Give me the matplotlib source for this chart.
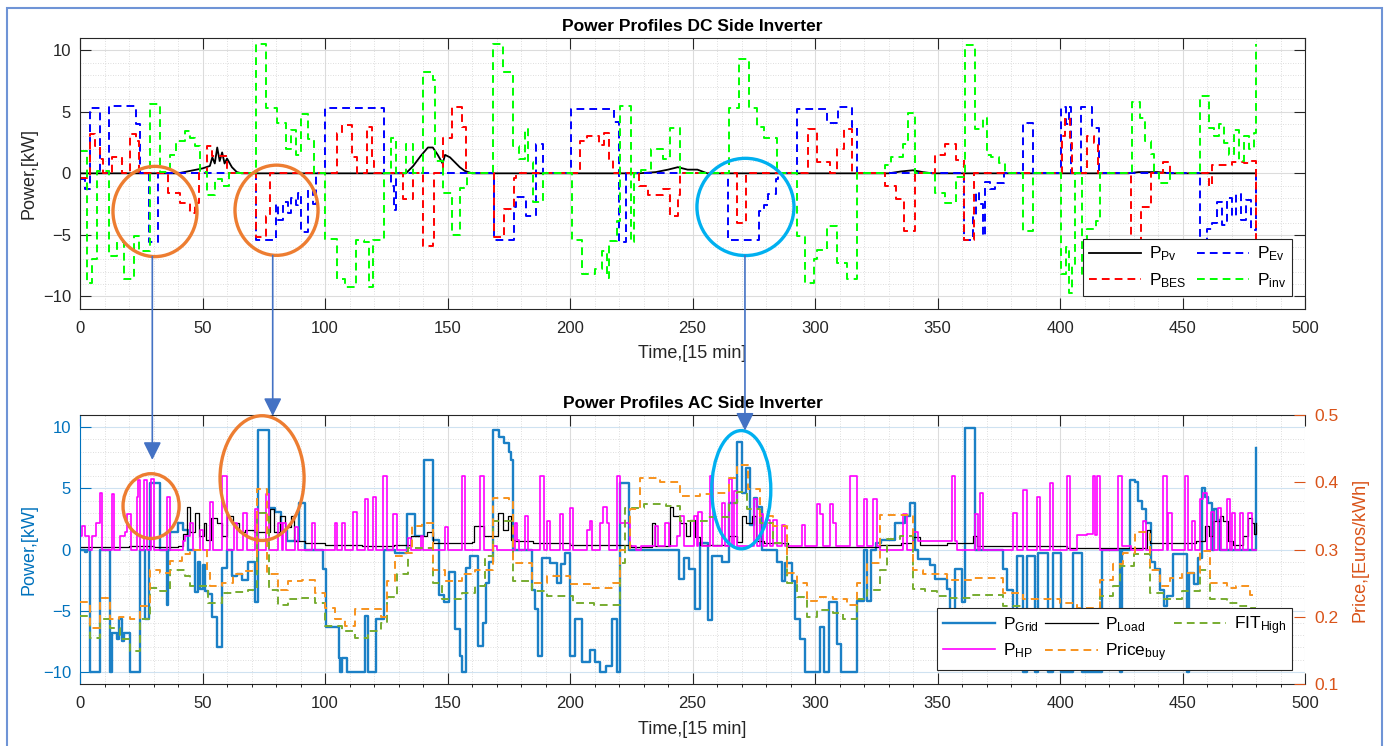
import matplotlib
matplotlib.use('Agg')
import matplotlib.pyplot as plt
from matplotlib.patches import Ellipse, Rectangle, ConnectionPatch
from matplotlib.ticker import MultipleLocator

plt.rcParams['font.family'] = ['Liberation Sans', 'DejaVu Sans']
plt.rcParams['mathtext.default'] = 'regular'

# ---------------- DC side (breakpoints: time step, kW) ----------------
pv = [(0, 0), (40, 0), (45, 0.2), (50, 0.4), (53, 0.6), (54, 1.3), (55, 0.8), (56, 2.1), (57, 1.0),
      (58, 1.7), (59, 0.8), (60, 1.2), (62, 0.5), (64, 0.1), (66, 0), (133, 0), (136, 0.6), (139, 1.4),
      (142, 2.1), (144, 2.1), (146, 1.5), (148, 0.8), (149, 1.5), (151, 1.3), (153, 0.9), (155, 0.5),
      (157, 0.2), (160, 0), (228, 0), (235, 0.1), (240, 0.3), (244, 0.5), (248, 0.3), (252, 0.3),
      (256, 0), (330, 0), (335, 0.15), (340, 0.25), (344, 0.1), (348, 0), (428, 0), (432, 0.1),
      (440, 0.1), (445, 0), (480, 0)]

ev = [(0, -0.5), (2, -1.3), (4, 5.3), (8, 0), (12, 5.5), (23, 4.0), (24.5, 0), (28, -5.6), (32, 0),
      (72, -5.4), (80, -2.5), (81, -3.8), (83, -2.3), (85, -3.2), (86, -2.0), (88, -2.6), (89, -1.6),
      (90, -4.8), (93, -1.3), (95, -2.5), (96.5, 0), (100, 5.3), (124, 0), (127, -1.0), (128, -3.0),
      (129, 0), (169, -5.4), (177, -2.7), (178, -1.9), (182, -3.5), (186, 2.4), (189, 0), (200.5, 5.2),
      (218, 4.2), (220, -5.6), (223, 0), (264.5, -5.4), (277, -3.1), (279, -2.6), (281, -1.7),
      (284, -0.5), (285, 0), (292.5, 5.2), (305, 4.1), (309.5, 5.4), (315, 3.8), (317, 0),
      (361, -5.4), (364.5, -3.4), (365.5, -1.5), (367, -2.5), (368.5, -5.1), (369.5, -0.7),
      (371.5, -1.3), (373.5, -0.8), (377, 0), (385, 4.1), (389, 0), (400.5, 5.4), (402.5, 4.0),
      (403.5, 5.4), (404.5, 0), (408.5, 5.4), (413, 3.7), (416, 0), (457, -6.5), (460, -4.5),
      (462, -4.0), (464, -2.3), (466, -4.2), (468, -2.0), (470, -3.5), (472, -1.7), (474, -3.8),
      (476, -2.2), (478, -4.6), (480, 0)]

bes = [(0, -0.4), (4, 3.2), (6, 2.2), (8, 1.2), (9.5, 0), (13, 1.3), (17, 0), (20.5, 3.2), (23, 2.6),
       (24, 0), (36, -1.6), (41, -2.4), (45, -3.2), (47, -2.4), (48.5, 0), (52, 2.2), (54, 1.4),
       (60, 0), (72, -5.2), (76, -3.5), (77.5, 0), (105, 3.3), (107, 3.9), (111, 1.3), (113, 0),
       (117, 3.8), (119, 1.0), (120, 0), (132, -2.1), (136, 0), (140, -5.9), (144, -5.6), (144.5, 0),
       (148, 2.9), (152, 5.4), (156, 3.8), (157.5, 0), (169, -5.2), (173, -2.9), (177, -0.4),
       (178, 0), (204, 2.6), (207, 3.0), (212, 2.3), (214, 3.3), (216, 1.2), (217.5, 0), (228, -1.0),
       (232, -1.8), (238, -1.3), (241, -3.5), (244, -1.8), (245, 0), (268, -4.0), (272, 0),
       (297, 3.6), (301, 0.9), (306, 0), (309, 2.0), (312, 3.6), (315, 0), (328.5, -1.0),
       (333, -2.1), (336.5, -4.7), (341, 0), (349, 1.5), (353, 2.4), (357.5, 1.1), (361, -5.4),
       (365, 0), (401, 3.0), (402, 4.5), (404, 2.5), (405, 0), (411, 3.0), (414, 2.5), (415.5, 0),
       (429, -6.2), (433, -2.7), (437, 0), (442, 0.9), (445, 0), (461, -1.0), (462, 0.7), (470, 0.9),
       (475, 0.8), (478, 1.0), (480, -6.0)]

inv = [(0, 1.8), (3, -8.9), (5, -7.0), (7, 0.2), (12, -6.7), (15, -5.6), (18, -8.6), (22, -5.1),
       (24, -6.3), (28.5, 5.6), (32.7, 0.1), (36.7, 1.5), (39, 2.6), (43, 3.4), (45, 2.9), (47, 2.2),
       (49, 0.1), (52, -1.8), (55, -0.5), (58, -1.0), (61, 0), (72, 10.5), (76, 5.3), (80.3, 4.1),
       (84, 2.0), (86, 3.5), (88, 1.5), (90, 4.8), (93, 2.8), (95.5, 0), (100, -5.3), (105, -8.6),
       (108, -9.2), (112.5, -5.4), (116, -5.6), (118, -9.2), (119.5, -5.4), (124, 0), (127, 2.9),
       (129, 0), (133, 2.4), (136, 0), (140, 8.2), (144, 7.6), (145, 1.0), (148, -1.6), (152, -5.0),
       (155, -1.2), (158, 0), (168.7, 10.5), (172.8, 8.2), (176.9, 2.2), (179, 1.2), (181.5, 3.6),
       (183, 0.9), (185, -2.3), (189, 0), (200.7, -5.4), (205, -8.2), (210, -7.8), (213, -6.3),
       (215, -8.5), (216, -5.5), (219, -3.9), (220.5, 5.5), (225, -5.6), (226, 0), (229, 0.3),
       (233, 2.0), (238, 1.2), (241, 3.7), (245, 0), (264.7, 5.3), (268.8, 9.3), (273, 5.3),
       (276.5, 3.8), (279, 2.9), (284.4, 0), (292.6, -5.1), (296, -8.9), (299.5, -7.0), (301, -6.2),
       (305, -4.3), (309, -7.3), (313, -8.6), (317, 0), (328.5, 0.7), (331, 1.3), (336, 2.4),
       (338, 4.9), (341, 0), (349, -1.6), (353, -2.4), (357.5, -0.3), (361.2, 10.4), (365.3, 3.6),
       (368.5, 4.5), (370, 1.5), (372, 1.3), (375, 0.8), (377.5, 0), (385, -4.7), (389, 0),
       (400.6, -8.2), (402.5, -6.0), (403.5, -9.7), (405, -7.5), (406, 0), (408.8, -8.5), (411, -4.5),
       (414.5, -3.9), (416.5, 0), (429.2, 5.8), (432.5, 4.5), (434.6, 2.6), (437, 1.6), (438.5, 0),
       (440.5, -0.8), (445, 0), (457, 6.3), (461, 3.7), (463, 3.0), (465, 4.0), (467, 2.5),
       (469, 1.5), (471, 3.5), (473, 1.0), (475, 3.0), (477, 2.0), (479, 3.3), (480, 10.5)]

# ---------------- AC side (kW on the left axis, Euros/kWh on the right) ----------------
grid = [(0, 0), (2, -0.2), (3, 0), (4, -10), (8.2, 0), (12.2, -10), (13, -6.8), (15, -7.3), (16, -5.7),
        (17, -7.5), (18, -6.8), (20.4, -10), (24.5, 0), (26.5, -5.7), (28, 0), (28.6, 5.4), (32.7, 0),
        (35.4, -4.5), (36, 0), (36.7, 1.4), (40, 2.2), (42, 1.6), (44, 0), (47, -3.5), (48, -1.0),
        (49, -3.2), (50, -1.3), (51, -3.4), (52.4, -3.6), (54, -5.5), (56, -8.0), (57.8, -1.5),
        (60, 0), (62, -2.2), (64, -2.0), (66, -2.5), (68.7, -1.0), (71.4, -4.3), (72.8, 9.8),
        (77, 3.4), (79.5, 3.1), (82, 1.6), (84.5, 0.7), (89.5, 3.8), (91.8, 0), (99.3, -1.6),
        (100.5, -6.3), (105.5, -8.9), (106, -10), (107, -8.9), (109, -10), (116.5, -5.4),
        (117.5, -10), (121, -5.7), (124, 0), (128.6, -0.3), (133.3, 2.9), (136.7, 1.1), (140.2, 7.3),
        (144.2, 0.8), (146.5, -3.7), (148.5, -4.3), (150.5, -1.8), (153, -6.5), (155, -8.7),
        (156, -10), (157.5, -1.5), (159, -0.5), (162.5, -7.9), (164.5, -6.0), (165.5, -2.7),
        (167, -1.0), (168.7, 9.8), (171, 9.2), (173, 8.7), (175, 8.0), (176, 7.3), (176.9, 0),
        (184.4, -3.3), (185.5, -4.9), (187, -8.7), (188.5, -0.7), (192, -1.1), (194.5, -2.7),
        (196.5, -1.2), (198, -0.3), (200, -8.7), (202, -5.7), (205, -9.2), (208.2, -8.2),
        (210.3, -9.2), (212.3, -10), (214.5, -9.5), (217, -5.7), (219, -10), (220.5, 5.4), (224, 0),
        (244.3, -2.4), (246.5, -0.7), (248.5, -1.6), (251, -4.9), (253, 0.5), (256.5, -5.8),
        (258, -0.5), (262, -1.0), (264.7, 3.8), (268, 8.8), (270, 4.6), (272, 6.7), (273.5, 2.0),
        (275, 4.2), (276.5, 3.5), (278.5, 0), (284.4, -1.0), (286.4, -2.6), (287.8, -1.1),
        (290.5, -2.6), (292, -5.7), (294, -7.3), (296, -10), (302, -6.3), (303.5, -10),
        (305.5, -4.3), (309, -7.7), (310.5, -10), (317, -4.2), (319.8, 0), (321.1, -4.2), (323, 0),
        (325, 0.5), (327, 0.8), (332.6, 2.2), (336.7, 2.7), (338.7, 3.8), (340.8, 0), (342.1, -0.8),
        (347, -1.3), (349, -2.4), (353.7, -3.2), (355, -6.0), (357, -1.6), (360, -4.3), (361.2, 9.9),
        (365.3, 0), (376.8, -1.6), (378.2, -3.3), (381, -5.5), (382.3, -0.5), (385, -10),
        (386.4, -0.5), (389.8, -10), (391, -0.3), (395, -10), (397, -0.3), (400.6, -10),
        (405.4, -0.3), (408.8, -10), (417, 0), (424.5, -10), (425.3, 0), (428.5, 5.7), (430.5, 5.5),
        (432, 4.0), (433.5, 3.3), (435, 2.2), (437, -1.0), (438.7, -1.6), (441, -3.3), (442.5, -4.6),
        (443.5, -3.8), (446.2, -0.4), (451.7, -10), (452.5, -1.9), (454.5, -2.8), (456.4, -0.7),
        (457.8, 5.0), (459, 4.3), (460.5, 3.8), (462, 0), (463, 3.3), (464, 2.4), (465.3, 0),
        (480, 8.3)]

load = [(0, 0.2), (20, 0.3), (30, 0.2), (40, 0.3), (42.2, 1.3), (43.5, 3.5), (45, 1.4), (47, 3.0),
        (48.5, 1.1), (50.5, 2.2), (51.5, 0.8), (53.5, 2.6), (56, 2.2), (58, 1.1), (60, 2.7),
        (62.5, 2.2), (65, 1.4), (67.5, 1.6), (71, 1.4), (77.5, 3.3), (79, 1.4), (81.5, 2.7),
        (83.5, 1.8), (86, 2.7), (87.5, 0.7), (92, 0.5), (100, 0.4), (115, 0.3), (128, 0.4),
        (135, 1.1), (141.5, 1.4), (144, 0.5), (160, 0.6), (161, 1.9), (165, 1.1), (170.8, 3.0),
        (172.8, 1.6), (174.5, 2.7), (176, 0.8), (177.5, 0.7), (185, 0.5), (200, 0.4), (225, 0.2),
        (233.4, 2.2), (234.7, 0.3), (240.8, 3.5), (242.2, 2.7), (245, 2.2), (247.5, 1.1), (249, 2.4),
        (251, 1.0), (253, 0.4), (264.7, 1.1), (268, 0.6), (270, 2.7), (272, 2.2), (274.2, 2.7),
        (276, 0.7), (279, 0.5), (289, 0.2), (320, 0.2), (326.5, 0.4), (335, 0.5), (340, 1.0),
        (342.8, 0.4), (353.7, 0.5), (364.6, 1.1), (366, 0.3), (402.7, 0.15), (435.3, 1.6),
        (436.7, 0.5), (455.7, 0.7), (459.2, 1.9), (461, 1.1), (462.5, 2.3), (465.3, 2.7),
        (466.6, 2.3), (468.7, 0.7), (470.7, 0.4), (474.8, 1.1), (476.8, 2.6), (478.2, 2.2),
        (479.3, 1.3), (480, 2.2)]

hp = [(0, 1.1), (0.7, 1.9), (2, 1.1), (3.5, 0), (5, 1.1), (6.5, 2.2), (8, 4.6), (9, 0), (13, 4.5),
      (14, 0), (16.3, 1.1), (18.4, 1.4), (19, 2.9), (21, 0), (23.1, 4.3), (23.8, 5.7), (24.5, 0),
      (26, 5.7), (27.5, 0), (29, 5.8), (30, 0), (35.4, 4.3), (36.7, 0), (42, 0.7), (43, 1.1),
      (45, 2.2), (46, 0), (49, 1.6), (50.3, 0), (53, 3.9), (54.4, 0), (57.8, 6.0), (59.9, 0),
      (63, 2.2), (64, 0), (66.7, 3.0), (68, 0), (71.4, 3.3), (72.8, 0), (76, 4.5), (77, 0), (81, 2.2),
      (82.3, 0), (83, 2.2), (84, 0), (87.8, 1.8), (89.1, 0), (94.6, 2.2), (96, 0), (104, 2.2),
      (105, 0), (106.8, 2.2), (108.2, 0), (111.6, 3.1), (113, 0), (116.3, 4.1), (117.7, 0),
      (119.7, 4.3), (121, 0), (123.8, 6.0), (125.2, 0), (127.9, 2.9), (129.3, 0), (134, 0.9),
      (135, 0), (139, 1.1), (140, 0), (149, 1.8), (150.3, 0), (155.8, 6.0), (157.1, 0), (163.3, 6.0),
      (164.7, 0), (168.7, 0.3), (170, 0), (177.6, 2.2), (178.3, 0.8), (179, 0), (181.7, 2.7),
      (183, 0), (187.8, 6.0), (189.2, 0), (190.5, 2.3), (191.9, 0), (196, 2.9), (197.3, 0),
      (200, 3.4), (201.4, 0), (206.8, 1.6), (208.2, 2.3), (209, 0), (212.3, 2.2), (213.6, 3.5),
      (215, 2.2), (215.8, 0), (219.1, 6.0), (220.4, 2.2), (224.5, 0.3), (227, 0), (229, 0.3),
      (234.7, 1.9), (236, 0.3), (238.8, 2.2), (240.2, 0.3), (243.5, 1.1), (245, 2.7), (246.5, 0.3),
      (250.4, 2.7), (251.7, 0.3), (252.4, 3.1), (253.8, 0.3), (257.2, 6.0), (258.5, 0.3), (262, 3.8),
      (263.3, 0.3), (264.7, 5.8), (266, 0.3), (267, 4.8), (268, 0.3), (274.9, 4.1), (276.2, 0.3),
      (277.6, 2.9), (278.6, 0.3), (280.5, 2.4), (281.5, 0.3), (283, 2.4), (284.4, 0.3), (286.4, 2.0),
      (287.8, 0.3), (294.6, 2.0), (296, 0.3), (300.7, 3.7), (302.1, 2.9), (303.3, 0.3), (306.2, 3.7),
      (307.5, 2.2), (308.5, 0.3), (314.3, 6.0), (317, 0.3), (319.8, 4.1), (321.1, 0.3), (323.8, 4.1),
      (325.2, 0.3), (326.5, 0), (336, 2.9), (337.4, 0), (340.1, 1.4), (342.2, 0.7), (355.8, 6.0),
      (357.1, 0.7), (358, 0), (365.3, 2.9), (366.6, 0), (367.3, 4.6), (368.7, 0), (380.9, 3.0),
      (382.3, 0), (385, 4.9), (386.4, 0), (390.4, 4.3), (391.8, 0), (395.9, 5.4), (397.3, 0),
      (402.7, 6.0), (404.1, 0), (406.8, 1.2), (411, 1.3), (413.6, 6.0), (414.4, 1.2), (415, 6.0),
      (416.3, 0), (423.8, 6.0), (425.1, 0.3), (429, 0), (434, 2.3), (435, 0), (442.1, 6.0),
      (443.5, 0), (444.2, 3.0), (445.5, 0), (451, 6.0), (452.3, 0), (453.8, 2.3), (455, 0),
      (457.1, 4.1), (458.5, 4.6), (459.8, 0), (461.7, 3.1), (463, 0), (464.5, 3.4), (465.8, 0),
      (468, 4.1), (469.4, 0), (470, 3.0), (471.4, 0), (473.4, 3.0), (474.8, 0), (476.8, 3.0),
      (478.2, 0), (480, 0)]

price_buy = [(0, 0.222), (4, 0.184), (8.2, 0.228), (12.2, 0.196), (16, 0.2), (20.4, 0.196),
             (24.5, 0.216), (28.6, 0.27), (32.7, 0.265), (36.7, 0.283), (41.5, 0.293), (45, 0.3),
             (51.7, 0.268), (53, 0.246), (58, 0.25), (62.6, 0.263), (67.3, 0.268), (72.1, 0.39),
             (76.2, 0.263), (81, 0.24), (85, 0.253), (90.5, 0.255), (96, 0.236), (100, 0.213),
             (104, 0.196), (108.2, 0.186), (112.2, 0.212), (116.3, 0.211), (123, 0.2), (125.2, 0.253),
             (128.6, 0.29), (132.7, 0.295), (135.4, 0.335), (139.5, 0.34), (144.2, 0.27),
             (149, 0.253), (155.8, 0.263), (161.2, 0.27), (168.7, 0.377), (175, 0.372), (176.9, 0.28),
             (184.4, 0.25), (190.5, 0.26), (200, 0.248), (208.2, 0.243), (217.7, 0.25), (220.4, 0.3),
             (224.5, 0.36), (228.6, 0.406), (236.8, 0.4), (245, 0.38), (253.1, 0.382), (258.5, 0.384),
             (264.7, 0.406), (268, 0.425), (272.8, 0.39), (277.6, 0.35), (283, 0.335), (288.5, 0.265),
             (292.6, 0.25), (296.6, 0.223), (300.7, 0.23), (307.5, 0.226), (313, 0.218), (317, 0.25),
             (321.1, 0.28), (326.6, 0.352), (340.1, 0.27), (344.2, 0.263), (353.7, 0.255),
             (364.6, 0.258), (376.8, 0.236), (385, 0.226), (400, 0.221), (406.8, 0.213),
             (416.3, 0.255), (421.7, 0.278), (425.8, 0.295), (430.6, 0.326), (436.7, 0.27),
             (440.8, 0.246), (444.9, 0.258), (449.6, 0.265), (457.1, 0.298), (461.2, 0.25),
             (468, 0.243), (472, 0.246), (477.5, 0.232), (480, 0.232)]

fit_high = [(0, 0.201), (4, 0.169), (8.2, 0.196), (12.2, 0.184), (16.3, 0.167), (20.4, 0.149),
            (24.5, 0.196), (28.6, 0.243), (32.7, 0.238), (36.7, 0.27), (42.9, 0.26), (45, 0.246),
            (52.4, 0.221), (57.8, 0.236), (63.3, 0.237), (68.7, 0.24), (72.1, 0.354), (77, 0.24),
            (81, 0.218), (85, 0.226), (90.5, 0.228), (96, 0.221), (100, 0.186), (106.8, 0.179),
            (112.2, 0.169), (117.7, 0.179), (123, 0.19), (125.2, 0.23), (129.3, 0.263), (134, 0.302),
            (144.2, 0.25), (147.6, 0.226), (155.8, 0.236), (161.2, 0.246), (165.3, 0.29),
            (168.7, 0.342), (176.9, 0.253), (184.4, 0.238), (190.5, 0.231), (201.4, 0.221),
            (209.6, 0.218), (220.4, 0.28), (222.5, 0.362), (230, 0.367), (239, 0.365), (245, 0.342),
            (255.8, 0.349), (264.7, 0.369), (268, 0.385), (272.2, 0.36), (277.6, 0.34), (283, 0.31),
            (288.5, 0.25), (292.6, 0.23), (296.6, 0.2), (300.7, 0.21), (307.5, 0.205), (311.6, 0.196),
            (317, 0.226), (321.1, 0.24), (326.6, 0.27), (329.3, 0.315), (334.7, 0.32), (340.1, 0.242),
            (344.9, 0.238), (349.6, 0.231), (353.7, 0.228), (364.6, 0.233), (376.8, 0.216),
            (385, 0.209), (400, 0.2), (416.3, 0.231), (421.7, 0.246), (424.5, 0.275), (430, 0.293),
            (436.7, 0.236), (442.2, 0.226), (449.6, 0.238), (457.1, 0.27), (461.2, 0.226),
            (468, 0.221), (473.4, 0.216), (477.5, 0.213), (480, 0.213)]

x_ticks = list(range(0, 501, 50))
kw_ticks = [-10, -5, 0, 5, 10]
price_ticks = [0.1, 0.2, 0.3, 0.4, 0.5]

TXT = '#262626'
C_LEFT = '#0072BD'
C_RIGHT = '#D95319'
DASH = (4, 2.6)


def xy(points):
    return [p[0] for p in points], [p[1] for p in points]


def style_axes(ax, grid_y='#dcdcdc'):
    ax.set_xlim(0, 500)
    ax.set_xticks(x_ticks)
    ax.xaxis.set_minor_locator(MultipleLocator(10))
    ax.yaxis.set_minor_locator(MultipleLocator(1))
    ax.tick_params(which='major', direction='in', length=8, width=0.8, pad=8.5,
                   labelsize=12, colors=TXT, top=True)
    ax.tick_params(axis='y', which='major', pad=6.5)
    ax.tick_params(which='minor', length=0)
    ax.grid(True, which='major', axis='x', color='#dcdcdc', lw=0.8)
    ax.grid(True, which='major', axis='y', color=grid_y, lw=0.8)
    ax.grid(True, which='minor', color='#d4d4d4', lw=0.6, ls=(0, (1, 2)))
    ax.set_axisbelow(True)
    for s in ax.spines.values():
        s.set_color(TXT)
        s.set_linewidth(0.8)


def add_legend(ax, handles, labels, ncol, anchor, colsp):
    leg = ax.legend(handles, labels, ncol=ncol, loc='lower right', bbox_to_anchor=anchor,
                    borderaxespad=0, fontsize=12.5, frameon=True, fancybox=False, framealpha=1,
                    edgecolor=TXT, handlelength=3.0, columnspacing=colsp, handletextpad=0.45,
                    borderpad=0.35, labelspacing=0.45)
    leg.get_frame().set_linewidth(0.8)
    return leg


fig = plt.figure(figsize=(13.87, 7.46), dpi=100)

# ---------------- top: DC side ----------------
axt = fig.add_axes([0.0577, 0.5862, 0.8832, 0.3629])
style_axes(axt)
axt.tick_params(right=True)
axt.set_ylim(-11, 11)
axt.set_yticks(kw_ticks)

t, v = xy(pv)
l_pv, = axt.plot(t, v, color='k', lw=1.3)
t, v = xy(ev)
l_ev, = axt.plot(t, v, color='b', lw=1.4, dashes=DASH, drawstyle='steps-post')
t, v = xy(bes)
l_bes, = axt.plot(t, v, color='r', lw=1.4, dashes=DASH, drawstyle='steps-post')
t, v = xy(inv)
l_inv, = axt.plot(t, v, color='#00ff00', lw=1.4, dashes=DASH, drawstyle='steps-post')

axt.set_title('Power Profiles DC Side Inverter', fontsize=12.5, fontweight='bold', pad=5)
axt.set_xlabel('Time,[15 min]', fontsize=13, color=TXT, labelpad=7)
axt.set_ylabel('Power,[kW]', fontsize=13, color=TXT, labelpad=4)

add_legend(axt, [l_pv, l_bes, l_ev, l_inv],
           [r'P$_{Pv}$', r'P$_{BES}$', r'P$_{Ev}$', r'P$_{inv}$'],
           2, (0.9894, 0.047), 0.6)

# ---------------- bottom: AC side ----------------
axb = fig.add_axes([0.0577, 0.0831, 0.8832, 0.3606])
style_axes(axb, grid_y='#cfe2f1')
axb.set_ylim(-11, 11)
axb.set_yticks(kw_ticks)
axb.tick_params(axis='y', colors=C_LEFT, right=False)
axb.spines['left'].set_color(C_LEFT)
axb.spines['right'].set_visible(False)

t, v = xy(grid)
l_grid, = axb.plot(t, v, color='#1b80c6', lw=1.7, drawstyle='steps-post')
t, v = xy(load)
l_load, = axb.plot(t, v, color='k', lw=0.9, drawstyle='steps-post')
t, v = xy(hp)
l_hp, = axb.plot(t, v, color='#ff00ff', lw=1.2, drawstyle='steps-post')

axp = fig.add_axes(axb.get_position(), sharex=axb, frameon=False)
axp.patch.set_visible(False)
axp.yaxis.tick_right()
axp.yaxis.set_label_position('right')
axp.set_ylim(0.1, 0.5)
axp.set_yticks(price_ticks)
axp.tick_params(axis='y', direction='in', length=8, width=0.8, pad=7, labelsize=12.5,
                colors=C_RIGHT, left=False)
axp.tick_params(axis='x', bottom=False, top=False, labelbottom=False)
axp.spines['right'].set_visible(True)
axp.spines['right'].set_color(C_RIGHT)
axp.spines['right'].set_linewidth(0.8)

t, v = xy(fit_high)
l_fit, = axp.plot(t, v, color='#77AC30', lw=1.4, dashes=DASH, drawstyle='steps-post')
t, v = xy(price_buy)
l_price, = axp.plot(t, v, color='#F7931E', lw=1.4, dashes=DASH, drawstyle='steps-post')

axb.set_title('Power Profiles AC Side Inverter', fontsize=12.5, fontweight='bold', pad=5)
axb.set_xlabel('Time,[15 min]', fontsize=13, color=TXT, labelpad=7)
axb.set_ylabel('Power,[kW]', fontsize=13, color=C_LEFT, labelpad=4)
axp.set_ylabel('Price,[Euros/kWh]', fontsize=13, color=C_RIGHT, labelpad=9)

add_legend(axp, [l_grid, l_hp, l_load, l_price, l_fit],
           [r'P$_{Grid}$', r'P$_{HP}$', r'P$_{Load}$', r'Price$_{buy}$', r'FIT$_{High}$'],
           3, (0.9894, 0.052), 0.4)

# ---------------- highlight ellipses and arrows ----------------
ORANGE = '#ED7D31'
CYAN = '#00B0F0'
ARROW = '#4472C4'
for cx, cy, w, h, c in [(30.6, -3.1, 34.3, 7.33, ORANGE), (80.2, -3.0, 33.9, 7.33, ORANGE),
                        (271.6, -2.73, 39.6, 7.9, CYAN)]:
    axt.add_patch(Ellipse((cx, cy), w, h, fill=False, ec=c, lw=2.4, clip_on=False, zorder=10))
for cx, cy, w, h, c in [(29.0, 3.55, 22.9, 5.3, ORANGE), (74.3, 5.84, 34.3, 10.2, ORANGE),
                        (269.9, 4.89, 24.1, 9.67, CYAN)]:
    axp.add_patch(Ellipse((cx, cy), w, h, transform=axb.transData, fill=False, ec=c, lw=2.4,
                          clip_on=False, zorder=10))

for x0, y0, y1 in [(29.5, -6.76, 7.33), (78.65, -6.68, 10.92), (271.4, -6.68, 9.72)]:
    con = ConnectionPatch(xyA=(x0, y0), coordsA=axt.transData, xyB=(x0, y1), coordsB=axb.transData,
                          arrowstyle='-|>,head_length=0.4,head_width=0.2', mutation_scale=27,
                          color=ARROW, lw=1.2, shrinkA=0, shrinkB=0)
    fig.add_artist(con)

fig.add_artist(Rectangle((7 / 1387, -0.05), 1375 / 1387, 1.05 - 8 / 746, transform=fig.transFigure,
                         fill=False, ec='#6f94d6', lw=1.5))

fig.savefig('out.png', dpi=100)
